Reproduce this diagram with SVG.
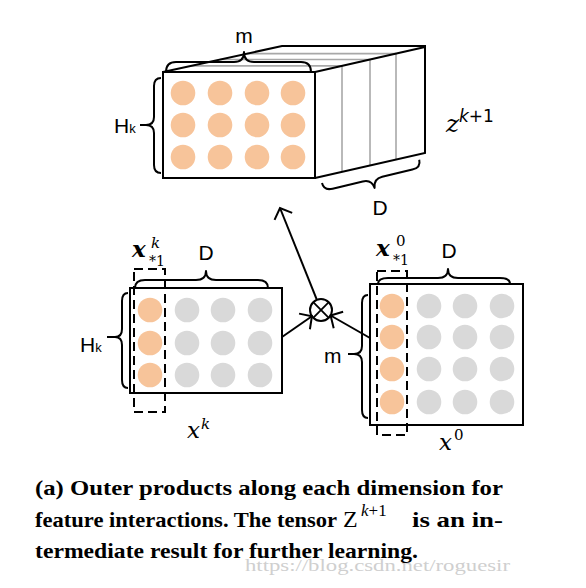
<svg xmlns="http://www.w3.org/2000/svg" width="586" height="588" viewBox="0 0 586 588">
<defs>
<style>
.edge{fill:none;stroke:#000;stroke-width:2}
.thin{fill:none;stroke:#000;stroke-width:1.8}
.slab{fill:none;stroke:#a8a8a8;stroke-width:1.6}
.brace{fill:none;stroke:#000;stroke-width:2;stroke-linejoin:round}
.dash{fill:none;stroke:#000;stroke-width:2;stroke-dasharray:9 5}
.or{fill:#F7C49A}
.gr{fill:#D9D9D9}
.sans{font-family:"Liberation Sans",Arial,sans-serif;fill:#000}
.math{font-family:"DejaVu Serif","Liberation Serif",serif;fill:#000}
.cap{font-family:"Liberation Serif","Times New Roman",serif;fill:#000}
</style>
<marker id="arr" viewBox="-12 -12 14 24" refX="0" refY="0" markerWidth="14" markerHeight="24" markerUnits="userSpaceOnUse" orient="auto">
<path d="M-9,-9.5 L0,0 L-9,9.5" fill="none" stroke="#000" stroke-width="2"/>
</marker>
</defs>
<rect width="586" height="588" fill="#fff"/>

<g id="tensor-z">
<polygon points="163,72 282,46 425,46 315,72" fill="#fff"/>
<polygon points="315,72 425,47 425,153 315,178" fill="#fff"/>
<line class="slab" x1="191" y1="65.9" x2="342" y2="65.9"/>
<line class="slab" x1="220" y1="59.5" x2="370" y2="59.5"/>
<line class="slab" x1="247" y1="53.6" x2="396" y2="53.6"/>
<line class="slab" x1="342" y1="65.9" x2="342" y2="171.9"/>
<line class="slab" x1="370" y1="59.5" x2="370" y2="165.5"/>
<line class="slab" x1="396" y1="53.6" x2="396" y2="159.6"/>
<polyline class="edge" points="163,72 282,46 425,46 425,153 315,178"/>
<line class="edge" x1="315" y1="72" x2="425" y2="47"/>
<rect class="edge" x="163" y="72" width="152" height="106" fill="#fff"/>
<g class="or">
<circle cx="183" cy="93" r="12.3"/><circle cx="220" cy="93" r="12.3"/><circle cx="257" cy="93" r="12.3"/><circle cx="293" cy="93" r="12.3"/>
<circle cx="183" cy="125" r="12.3"/><circle cx="220" cy="125" r="12.3"/><circle cx="257" cy="125" r="12.3"/><circle cx="293" cy="125" r="12.3"/>
<circle cx="183" cy="157" r="12.3"/><circle cx="220" cy="157" r="12.3"/><circle cx="257" cy="157" r="12.3"/><circle cx="293" cy="157" r="12.3"/>
</g>
<path class="brace" d="M166,72 Q166,62 176,62 L234,62 Q244,62 244,52 Q244,62 254,62 L301,62 Q311,62 311,72"/>
<text class="sans" x="244" y="43" style="font-size:21px" text-anchor="middle">m</text>
<path class="brace" d="M161,78 Q154,78 154,86 L154,117 Q154,125 146,125 L140,125 M146,125 Q154,125 154,133 L154,165 Q154,173 161,173"/>
<text class="sans" x="114" y="133" style="font-size:21px">H<tspan style="font-size:13px">k</tspan></text>
<path class="brace" transform="translate(322,183) rotate(-13.5)" d="M0,0 Q0,8 9,8 L40,8 Q49,8 50,17 Q51,8 60,8 L91,8 Q100,8 100,0"/>
<text class="sans" x="380" y="215" style="font-size:21px" text-anchor="middle">D</text>
<text class="math" x="446" y="132" style="font-size:25px;font-style:italic">z</text>
<text x="459" y="122" style="font-family:'DejaVu Sans',sans-serif;font-size:17px"><tspan style="font-style:italic">k</tspan>+1</text>
</g>

<g id="matrix-xk">
<rect class="edge" x="130" y="288" width="152" height="105" fill="#fff"/>
<g class="or"><circle cx="150" cy="310" r="12.3"/><circle cx="150" cy="343" r="12.3"/><circle cx="150" cy="375" r="12.3"/></g>
<g class="gr">
<circle cx="187" cy="310" r="12.3"/><circle cx="223" cy="310" r="12.3"/><circle cx="260" cy="310" r="12.3"/>
<circle cx="187" cy="343" r="12.3"/><circle cx="223" cy="343" r="12.3"/><circle cx="260" cy="343" r="12.3"/>
<circle cx="187" cy="375" r="12.3"/><circle cx="223" cy="375" r="12.3"/><circle cx="260" cy="375" r="12.3"/>
</g>
<rect class="dash" x="134" y="269" width="31" height="143"/>
<path class="brace" d="M135,288 Q135,280 145,280 L196,280 Q206,280 206,271 Q206,280 216,280 L258,280 Q268,280 268,288"/>
<text class="sans" x="206" y="260" style="font-size:21px" text-anchor="middle">D</text>
<path class="brace" d="M128,293 Q122,293 122,301 L122,329 Q122,337 115,337 L107,337 M115,337 Q122,337 122,345 L122,380 Q122,388 128,388"/>
<text class="sans" x="80" y="352" style="font-size:21px">H<tspan style="font-size:13px">k</tspan></text>
<text class="math" x="132" y="257" style="font-size:23px;font-style:italic;font-weight:bold">x</text>
<text class="math" x="151" y="248" style="font-size:15px;font-style:italic">k</text>
<text class="math" x="149" y="266" style="font-size:14px">*1</text>
<text class="math" x="187" y="438" style="font-size:23px;font-style:italic">x</text>
<text class="math" x="201" y="429" style="font-size:15px;font-style:italic">k</text>
</g>

<g id="matrix-x0">
<rect class="edge" x="370" y="284" width="153" height="141" fill="#fff"/>
<g class="or"><circle cx="392" cy="306" r="12.3"/><circle cx="392" cy="337" r="12.3"/><circle cx="392" cy="369" r="12.3"/><circle cx="392" cy="402" r="12.3"/></g>
<g class="gr">
<circle cx="429" cy="306" r="12.3"/><circle cx="465" cy="306" r="12.3"/><circle cx="502" cy="306" r="12.3"/>
<circle cx="429" cy="337" r="12.3"/><circle cx="465" cy="337" r="12.3"/><circle cx="502" cy="337" r="12.3"/>
<circle cx="429" cy="369" r="12.3"/><circle cx="465" cy="369" r="12.3"/><circle cx="502" cy="369" r="12.3"/>
<circle cx="429" cy="402" r="12.3"/><circle cx="465" cy="402" r="12.3"/><circle cx="502" cy="402" r="12.3"/>
</g>
<rect class="dash" x="377" y="271" width="30" height="164"/>
<path class="brace" d="M378,284 Q378,278 388,278 L438,278 Q448,278 448,269 Q448,278 458,278 L500,278 Q510,278 510,284"/>
<text class="sans" x="449" y="258" style="font-size:21px" text-anchor="middle">D</text>
<path class="brace" d="M368,295 Q362,295 362,303 L362,346 Q362,354 354,354 L348,354 M354,354 Q362,354 362,362 L362,410 Q362,418 368,418"/>
<text class="sans" x="324" y="363" style="font-size:21px">m</text>
<text class="math" x="376" y="256" style="font-size:23px;font-style:italic;font-weight:bold">x</text>
<text class="math" x="396" y="246" style="font-size:15px">0</text>
<text class="math" x="393" y="265" style="font-size:14px">*1</text>
<text class="math" x="439" y="450" style="font-size:23px;font-style:italic">x</text>
<text class="math" x="454" y="440" style="font-size:15px">0</text>
</g>

<g id="otimes">
<circle cx="321" cy="310" r="11" fill="#fff" stroke="#000" stroke-width="2"/>
<line class="thin" x1="313.2" y1="302.2" x2="328.8" y2="317.8"/>
<line class="thin" x1="328.8" y1="302.2" x2="313.2" y2="317.8"/>
</g>

<g id="connectors">
<line class="edge" x1="282" y1="337" x2="311.9" y2="316.3" marker-end="url(#arr)"/>
<line class="edge" x1="370" y1="338" x2="330.6" y2="315.5" marker-end="url(#arr)"/>
<line class="edge" x1="316.9" y1="299.8" x2="280" y2="208" marker-end="url(#arr)"/>
</g>

<g id="caption">
<text class="cap" x="35" y="495" style="font-size:22px;font-weight:bold" textLength="468" lengthAdjust="spacingAndGlyphs">(a) Outer products along each dimension for</text>
<text class="cap" x="35" y="527" style="font-size:22px;font-weight:bold" textLength="302" lengthAdjust="spacingAndGlyphs">feature interactions. The tensor</text>
<text class="cap" x="343" y="527" style="font-size:24px">Z</text>
<text class="cap" x="361" y="516" style="font-size:17px"><tspan style="font-style:italic">k</tspan>+1</text>
<text class="cap" x="412" y="527" style="font-size:22px;font-weight:bold" textLength="91" lengthAdjust="spacingAndGlyphs">is an in-</text>
<text class="cap" x="35" y="558" style="font-size:22px;font-weight:bold" textLength="383" lengthAdjust="spacingAndGlyphs">termediate result for further learning.</text>
<text x="245" y="571" style="font-family:'Liberation Serif',serif;font-size:17px;fill:#cfcfcf" textLength="265" lengthAdjust="spacingAndGlyphs">https://blog.csdn.net/roguesir</text>
</g>
</svg>
